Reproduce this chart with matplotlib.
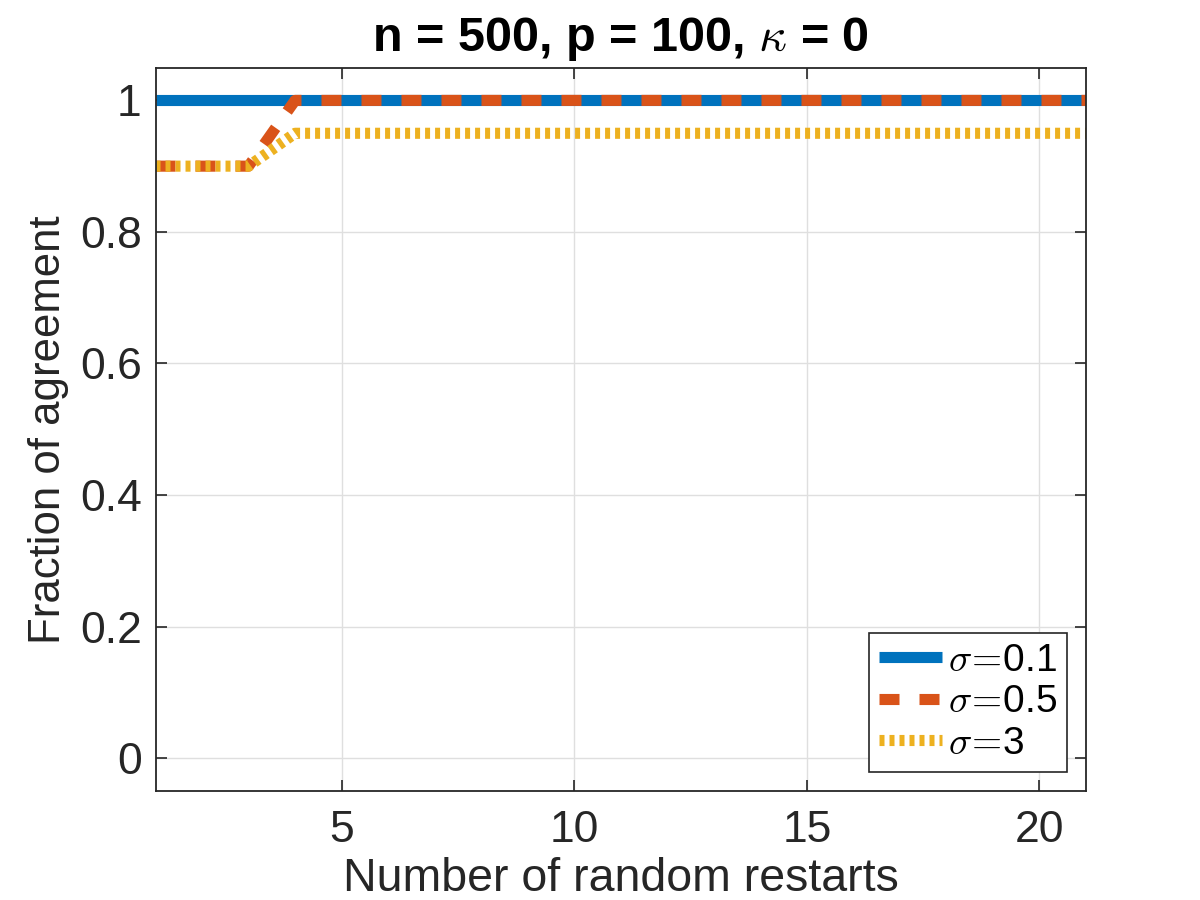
import matplotlib
matplotlib.use("Agg")
import matplotlib.pyplot as plt
from matplotlib.ticker import FuncFormatter

# ------------------------------------------------
# data
# ------------------------------------------------
restarts = list(range(1, 22))
agree_s01 = [1.0] * 21
agree_s05 = [0.9, 0.9, 0.9] + [1.0] * 18
agree_s3 = [0.9, 0.9, 0.9] + [0.95] * 18
labels = [r"$\sigma\!=\!$0.1", r"$\sigma\!=\!$0.5", r"$\sigma\!=\!$3"]

x_ticks = [5, 10, 15, 20]
y_ticks = [0, 0.2, 0.4, 0.6, 0.8, 1.0]

plt.rcParams["font.family"] = ["Liberation Sans", "DejaVu Sans"]
plt.rcParams["mathtext.fontset"] = "cm"

dark = "#262626"

fig = plt.figure(figsize=(12, 9), dpi=100)
ax = fig.add_axes([0.1296, 0.1211, 0.7754, 0.8039])

lw = 8
ax.plot(restarts, agree_s01, color="#0072BD", lw=lw, solid_capstyle="butt",
        label=labels[0])
ax.plot(restarts, agree_s05, color="#D95319", lw=lw, linestyle=(0, (1.8, 1.8)),
        dash_capstyle="butt", label=labels[1])
ax.plot(restarts, agree_s3, color="#EDB120", lw=lw, linestyle=(0, (0.45, 0.45)),
        dash_capstyle="butt", label=labels[2])

ax.set_xlim(1, 21)
ax.set_ylim(-0.05, 1.05)
ax.set_xticks(x_ticks)
ax.set_yticks(y_ticks)
ax.yaxis.set_major_formatter(FuncFormatter(lambda v, p: f"{v:g}"))

ax.grid(True, color="#dfdfdf", lw=1)
ax.set_axisbelow(True)
ax.tick_params(direction="in", length=8, width=1.2, colors=dark,
               labelsize=32, top=True, right=True)
ax.tick_params(axis="x", pad=14)
ax.tick_params(axis="y", pad=10)
for sp in ax.spines.values():
    sp.set_color(dark)
    sp.set_linewidth(1.3)

ax.set_xlabel("Number of random restarts", fontsize=33.5, color=dark,
              labelpad=4)
ax.set_ylabel("Fraction of agreement", fontsize=31.5, color=dark, labelpad=8)
ax.set_title(r"n = 500, p = 100, $\kappa$ = 0", fontsize=35, fontweight="bold",
             pad=12)

leg = ax.legend(loc="lower right", fontsize=28, handlelength=1.62,
                handletextpad=0.15, borderpad=0.25, labelspacing=0.14,
                borderaxespad=0.5, fancybox=False, framealpha=1,
                edgecolor=dark)
leg.get_frame().set_linewidth(1.2)

fig.savefig("out.png", dpi=100)
